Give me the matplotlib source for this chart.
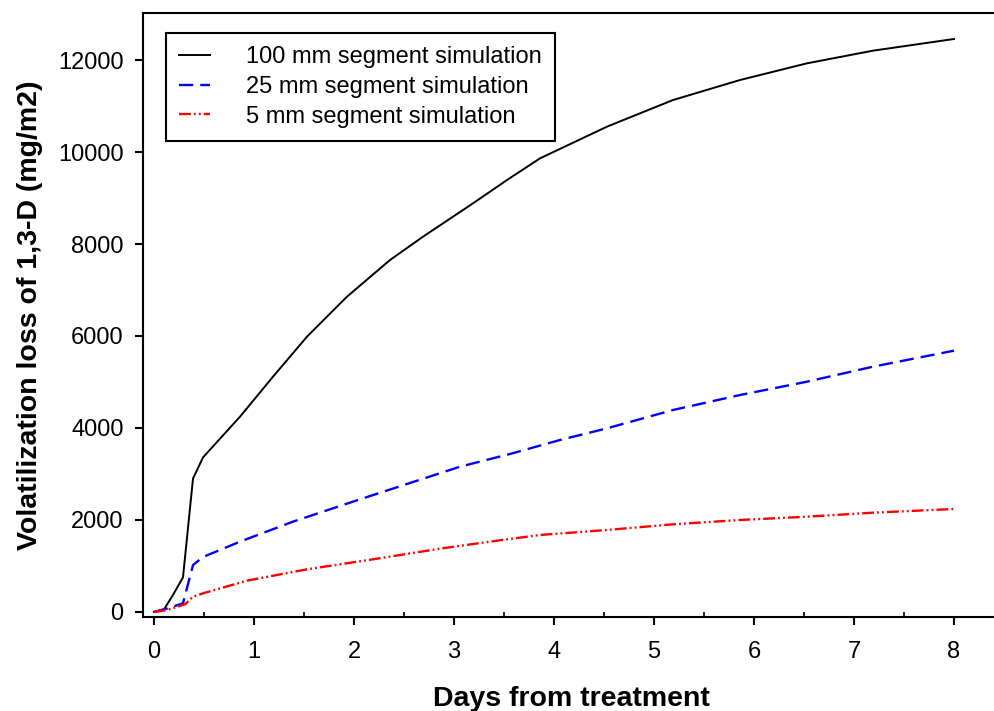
import matplotlib
matplotlib.use('Agg')
import matplotlib.pyplot as plt
from matplotlib.ticker import MultipleLocator

plt.rcParams['font.family'] = ['Liberation Sans', 'DejaVu Sans']

# 100 mm segment simulation
days_100 = [0, 0.1, 0.19, 0.29, 0.39, 0.49, 0.86, 1.19, 1.53, 1.93, 2.36, 2.69,
            3.19, 3.53, 3.86, 4.53, 5.19, 5.86, 6.53, 7.19, 8.0]
loss_100 = [0, 57, 370, 755, 2900, 3360, 4246, 5116, 5985, 6855, 7652, 8159,
            8884, 9391, 9862, 10551, 11130, 11565, 11928, 12203, 12457]

# 25 mm segment simulation
days_25 = [0, 0.14, 0.29, 0.39, 0.49, 0.86, 1.39, 1.99, 2.53, 3.06, 3.56, 4.06,
           4.53, 5.19, 5.86, 6.53, 7.19, 8.0]
loss_25 = [0, 80, 190, 1020, 1195, 1529, 1964, 2399, 2783, 3159, 3435, 3739,
           3993, 4391, 4717, 5007, 5333, 5681]

# 5 mm segment simulation
days_5 = [0, 0.13, 0.31, 0.39, 0.49, 0.93, 1.53, 2.19, 2.86, 3.53, 3.86, 4.53,
          5.19, 5.86, 6.53, 7.19, 8.0]
loss_5 = [0, 43, 167, 333, 406, 681, 928, 1145, 1377, 1580, 1674, 1783,
          1906, 2000, 2072, 2159, 2239]

labels = ['100 mm segment simulation', '25 mm segment simulation',
          '5 mm segment simulation']

fig = plt.figure(figsize=(9.95, 7.11), dpi=100)
ax = fig.add_axes([143 / 995, 1 - 617 / 711, 856 / 995, 604 / 711])

ax.plot(days_100, loss_100, color='black', lw=1.4, label=labels[0])
ax.plot(days_25, loss_25, color='blue', lw=1.7, linestyle=(0, (6, 3)),
        label=labels[1])
ax.plot(days_5, loss_5, color='red', lw=1.7,
        linestyle=(0, (5, 1.3, 0.8, 1.3, 0.8, 1.3)), label=labels[2])

ax.set_xlim(-0.11, 8.45)
ax.set_ylim(-109, 13022)

ax.xaxis.set_major_locator(MultipleLocator(1))
ax.xaxis.set_minor_locator(MultipleLocator(0.5))
ax.yaxis.set_major_locator(MultipleLocator(2000))

ax.tick_params(axis='both', which='major', direction='out', length=6,
               width=1.5, labelsize=17)
ax.tick_params(axis='x', which='major', pad=11)
ax.tick_params(axis='x', which='minor', direction='in', length=3.6, width=1.2)
ax.tick_params(axis='y', which='major', pad=8)

for s in ax.spines.values():
    s.set_linewidth(1.5)
ax.spines['right'].set_visible(False)

ax.set_xlabel('Days from treatment', fontsize=20.5, fontweight='bold', labelpad=17)
ax.set_ylabel('Volatilization loss of 1,3-D (mg/m2)', fontsize=20.5,
              fontweight='bold', labelpad=11)

leg = ax.legend(loc='upper left', bbox_to_anchor=(23 / 856, 1 - 20 / 604),
                fontsize=17, frameon=True, fancybox=False, framealpha=1,
                edgecolor='black', handlelength=1.3, handletextpad=1.55,
                borderpad=0.55, labelspacing=0.33, borderaxespad=0)
leg.get_frame().set_linewidth(1.5)

fig.savefig('out.png', dpi=100)
